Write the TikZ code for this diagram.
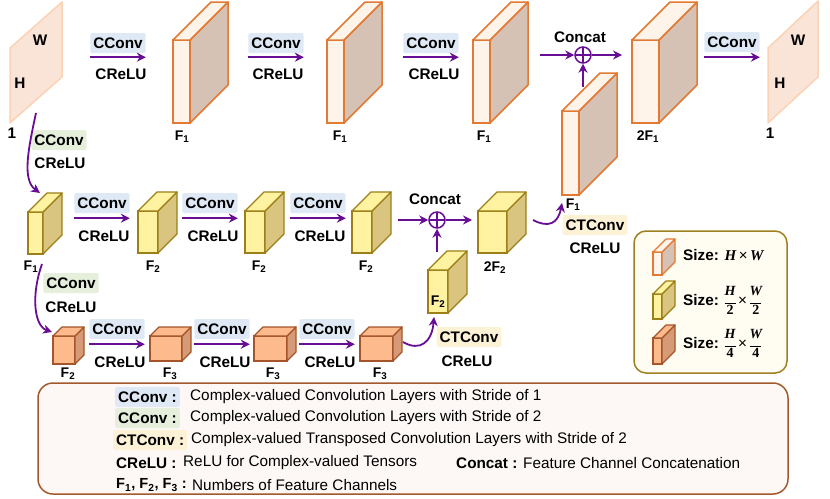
\documentclass[tikz,border=0pt]{standalone}
\usepackage{fontspec}
\setmainfont{Liberation Sans}
\newfontfamily\lserif{Liberation Serif}
\usetikzlibrary{arrows.meta,calc}
\definecolor{arrc}{RGB}{104,14,148}
\definecolor{bgblue}{RGB}{222,233,245}
\definecolor{bggreen}{RGB}{229,239,220}
\definecolor{bgorange}{RGB}{253,241,214}
\definecolor{bigline}{RGB}{226,122,52}
\definecolor{bigfr}{RGB}{254,244,233}
\definecolor{bigsd}{RGB}{214,194,180}
\definecolor{yelline}{RGB}{156,127,24}
\definecolor{yelfr}{RGB}{255,242,160}
\definecolor{yelsd}{RGB}{217,197,128}
\definecolor{orgline}{RGB}{164,86,42}
\definecolor{orgfr}{RGB}{253,186,140}
\definecolor{orgsd}{RGB}{215,154,119}
\definecolor{planefill}{RGB}{250,227,215}
\definecolor{planeline}{RGB}{252,210,180}
\definecolor{legAfill}{RGB}{255,252,242}
\definecolor{legAline}{RGB}{158,128,30}
\definecolor{legBfill}{RGB}{253,248,245}
\definecolor{legBline}{RGB}{163,89,43}
\newcommand{\mycube}[8]{%
  \node[#7front, line width=#8, minimum width=#4pt, minimum height=#5pt, anchor=north west] (#1) at (#2,#3) {};
  \filldraw[#7side, line width=#8] (#1.north east) -- ++(#6,-#6) -- ++(0,#5) -- (#1.south east) -- cycle;
  \filldraw[#7top, line width=#8] (#1.north west) -- ++(#6,-#6) -- ++(#4,0) -- (#1.north east) -- cycle;
}
\newcommand{\Fs}[1]{F\textsubscript{#1}}
\newcommand{\bi}[1]{{\lserif\bfseries\itshape #1}}
\newcommand{\bu}[1]{{\lserif\bfseries #1}}
\newcommand{\tfr}[2]{{\fontsize{14}{14}\selectfont\renewcommand{\arraystretch}{0.75}%
  \begin{tabular}[c]{@{}c@{}}\bi{#1}\\[-2pt]\rule{11pt}{0.9pt}\\[-1pt]\bu{#2}\end{tabular}}}
\begin{document}
\begin{tikzpicture}[x=1pt,y=-1pt,
  arr/.style={draw=arrc, line width=1.8pt, -{Stealth[length=9pt,width=9pt]}},
  lab/.style={font=\fontsize{15.3}{18}\selectfont\bfseries, inner sep=0pt},
  flab/.style={font=\fontsize{14}{16}\selectfont\bfseries, inner sep=0pt},
  txt/.style={font=\fontsize{15.3}{18}\selectfont, inner sep=0pt},
  bgb/.style={lab, fill=bgblue, rounded corners=2pt, inner xsep=3pt, minimum height=20pt},
  bgg/.style={lab, fill=bggreen, rounded corners=2pt, inner xsep=3pt, minimum height=20pt},
  bgo/.style={lab, fill=bgorange, rounded corners=2pt, inner xsep=3pt, minimum height=20pt},
  bigfront/.style={draw=bigline, fill=bigfr, inner sep=0pt, outer sep=0pt},
  bigside/.style={draw=bigline, fill=bigsd, line join=round},
  bigtop/.style={draw=bigline, fill=bigfr, line join=round},
  yelfront/.style={draw=yelline, fill=yelfr, inner sep=0pt, outer sep=0pt},
  yelside/.style={draw=yelline, fill=yelsd, line join=round},
  yeltop/.style={draw=yelline, fill=yelfr, line join=round},
  orgfront/.style={draw=orgline, fill=orgfr, inner sep=0pt, outer sep=0pt},
  orgside/.style={draw=orgline, fill=orgsd, line join=round},
  orgtop/.style={draw=orgline, fill=orgfr, line join=round},
  plane/.style={draw=planeline, fill=planefill, line width=1.5pt, line join=round},
  catc/.style={circle, draw=arrc, line width=1.5pt, minimum size=16pt, inner sep=0pt,
    path picture={\draw[arrc, line width=1.5pt] (path picture bounding box.north) -- (path picture bounding box.south)
      (path picture bounding box.west) -- (path picture bounding box.east);}}
]
\useasboundingbox (0,0) rectangle (830,498);

% ---------- legend boxes ----------
\draw[draw=legBline, fill=legBfill, line width=1.5pt, rounded corners=15pt] (38,383) rectangle (788,494);
\draw[draw=legAline, fill=legAfill, line width=1.5pt, rounded corners=12pt] (634,231) rectangle (787,373);

% ---------- top row ----------
\filldraw[plane] (10,48) -- (62,2) -- (62,77) -- (10,123) -- cycle;
\node[lab] (inW) at (40,40) {W};
\node[lab] (inH) at (20,83) {H};
\node[lab] (in1) at (12,133) {1};
\coordinate (inb) at (36,113);

\mycube{T1}{173}{40}{17}{83}{38}{big}{1.5pt}
\mycube{T2}{327}{40}{17}{83}{38}{big}{1.5pt}
\mycube{T3}{473}{40}{17}{83}{38}{big}{1.5pt}
\mycube{T4}{632}{40}{27}{83}{38}{big}{1.5pt}
\mycube{U1}{562}{111}{17}{84}{38}{big}{1.5pt}
\node[flab] (lT1) at (182,137) {\Fs{1}};
\node[flab] (lT2) at (340,137) {\Fs{1}};
\node[flab] (lT3) at (484,137) {\Fs{1}};
\node[flab] (lT4) at (648,137) {2\Fs{1}};
\node[flab] (lU1) at (573,205) {\Fs{1}};

\node[bgb] (c1) at (118,43) {CConv};
\draw[arr] ([yshift=-4pt]c1.south west) -- ([yshift=-4pt]c1.south east);
\node[lab] (r1) at (121,74) {CReLU};
\node[bgb] (c2) at (276,43) {CConv};
\draw[arr] ([yshift=-4pt]c2.south west) -- ([yshift=-4pt]c2.south east);
\node[lab] (r2) at (278,74) {CReLU};
\node[bgb] (c3) at (431,43) {CConv};
\draw[arr] ([yshift=-4pt]c3.south west) -- ([yshift=-4pt]c3.south east);
\node[lab] (r3) at (434,74) {CReLU};

\node[catc] (cat1) at (583,55) {};
\node[lab] (catl1) at (580,37) {Concat};
\draw[arr, shorten <=50pt] (cat1.west -| T3.east) -- (cat1.west);
\draw[arr, shorten >=10pt] (cat1.east) -- (cat1.east -| T4.west);
\draw[arr] ([yshift=24pt]cat1.south |- U1.north) -- (cat1.south);

\node[bgb] (c4) at (732,42) {CConv};
\draw[arr] ([yshift=-5pt]c4.south west) -- ([yshift=-5pt]c4.south east);

\filldraw[plane] (768,48) -- (818,1) -- (818,77) -- (768,123) -- cycle;
\node[lab] (outW) at (798,40) {W};
\node[lab] (outH) at (780,83) {H};
\node[lab] (out1) at (770,133) {1};

% green down 1
\node[bgg] (g1) at (59,140) {CConv};
\node[lab] (gr1) at (60,163) {CReLU};

% ---------- middle row ----------
\mycube{M1}{28}{212}{15}{42}{19}{yel}{1.3pt}
\mycube{M2}{138}{211}{20}{42}{19}{yel}{1.3pt}
\mycube{M3}{245}{211}{20}{42}{19}{yel}{1.3pt}
\mycube{M4}{352}{211}{20}{42}{19}{yel}{1.3pt}
\mycube{M5}{478}{211}{29}{42}{19}{yel}{1.3pt}
\mycube{MU}{428}{270}{20}{43}{19}{yel}{1.3pt}
\node[flab] (lM1) at (31,267) {\Fs{1}};
\node[flab] (lM2) at (153,267) {\Fs{2}};
\node[flab] (lM3) at (259,267) {\Fs{2}};
\node[flab] (lM4) at (366,267) {\Fs{2}};
\node[flab] (lM5) at (495,268) {2\Fs{2}};
\node[flab] (lMU) at (438,302) {\Fs{2}};

\draw[arr] (inb) .. controls (28,150) and (22,180) .. ([xshift=12pt,yshift=19pt]M1.north west);

\node[bgb] (m1) at (102,203) {CConv};
\draw[arr] ([yshift=-5pt]m1.south west) -- ([yshift=-5pt]m1.south east);
\node[lab] (mr1) at (104,236) {CReLU};
\node[bgb] (m2) at (210,203) {CConv};
\draw[arr] ([yshift=-5pt]m2.south west) -- ([yshift=-5pt]m2.south east);
\node[lab] (mr2) at (213,236) {CReLU};
\node[bgb] (m3) at (318,203) {CConv};
\draw[arr] ([yshift=-5pt]m3.south west) -- ([yshift=-5pt]m3.south east);
\node[lab] (mr3) at (320,236) {CReLU};

\node[catc] (cat2) at (437,220) {};
\node[lab] (catl2) at (435,199) {Concat};
\draw[arr, shorten <=26pt] (cat2.west -| M4.east) -- (cat2.west);
\draw[arr, shorten >=6pt] (cat2.east) -- (cat2.east -| M5.west);
\draw[arr] ([yshift=18pt]cat2.south |- MU.north) -- (cat2.south);

\coordinate (m5o) at ($(M5.north east)+(26,9)$);
\draw[arr] (m5o) .. controls (548,228) and (558,224) .. ([xshift=0pt,yshift=-8pt]U1.south west);
\node[bgo] (t1) at (595,225) {CTConv};
\node[lab] (tr1) at (595,248) {CReLU};

% ---------- bottom row ----------
\mycube{B1}{53}{336}{22}{28}{9}{org}{1.3pt}
\mycube{B2}{150}{336}{32}{25}{9}{org}{1.3pt}
\mycube{B3}{254}{336}{33}{25}{9}{org}{1.3pt}
\mycube{B4}{360}{336}{33}{25}{9}{org}{1.3pt}
\node[flab] (lB1) at (68,374) {\Fs{2}};
\node[flab] (lB2) at (170,374) {\Fs{3}};
\node[flab] (lB3) at (273,374) {\Fs{3}};
\node[flab] (lB4) at (380,374) {\Fs{3}};

% green down 2
\node[bgg] (g2) at (71,283) {CConv};
\node[lab] (gr2) at (71,307) {CReLU};
\draw[arr] ([xshift=-1pt,yshift=-10pt]M1.south east) .. controls (31,295) and (34,326) .. ([xshift=-1pt,yshift=4pt]B1.north west);

\node[bgb] (b1) at (117,329) {CConv};
\draw[arr] ([yshift=-5pt]b1.south west) -- ([yshift=-5pt]b1.south east);
\node[lab] (br1) at (120,362) {CReLU};
\node[bgb] (b2) at (222,329) {CConv};
\draw[arr] ([yshift=-5pt]b2.south west) -- ([yshift=-5pt]b2.south east);
\node[lab] (br2) at (225,362) {CReLU};
\node[bgb] (b3) at (327,329) {CConv};
\draw[arr] ([yshift=-5pt]b3.south west) -- ([yshift=-5pt]b3.south east);
\node[lab] (br3) at (330,362) {CReLU};

\coordinate (b4o) at ($(B4.north east)+(10,6)$);
\draw[arr] (b4o) .. controls (420,352) and (432,342) .. ([xshift=6pt,yshift=-4pt]MU.south west);
\node[bgo] (t2) at (469,337) {CTConv};
\node[lab] (tr2) at (467,361) {CReLU};

% ---------- right legend ----------
\mycube{L1}{653}{252}{9}{23}{13}{big}{1.1pt}
\mycube{L2}{653}{294}{9}{25}{13}{yel}{1.1pt}
\mycube{L3}{653}{338}{9}{26}{13}{org}{1.1pt}
\node[lab, anchor=west] (s1) at (683,255) {Size: {\fontsize{15}{17}\selectfont\bi{H}{\mdseries\,×\,}\bi{W}}};
\node[lab, anchor=west] (s2) at (683,302) {Size: \tfr{H}{2}{\mdseries\,×\,}\tfr{W}{2}};
\node[lab, anchor=west] (s3) at (683,345) {Size: \tfr{H}{4}{\mdseries\,×\,}\tfr{W}{4}};

% ---------- bottom legend ----------
\node[bgb, anchor=west] (k1) at (115,397) {CConv :};
\node[txt, anchor=west] (k1t) at (190,397) {Complex-valued Convolution Layers with Stride of 1};
\node[bgg, anchor=west] (k2) at (115,418) {CConv :};
\node[txt, anchor=west] (k2t) at (190,418) {Complex-valued Convolution Layers with Stride of 2};
\node[bgo, anchor=west] (k3) at (113,440) {CTConv :};
\node[txt, anchor=west] (k3t) at (191,440) {Complex-valued Transposed Convolution Layers with Stride of 2};
\node[lab, anchor=west] (k4) at (116,463) {CReLU :};
\node[txt, anchor=west] (k4t) at (183,463) {ReLU for Complex-valued Tensors};
\node[lab, anchor=west] (k5) at (456,463) {Concat :};
\node[txt, anchor=west] (k5t) at (523,463) {Feature Channel Concatenation};
\node[lab, anchor=west, font=\fontsize{14.6}{18}\selectfont\bfseries] (k6) at (116,485) {\Fs{1}, \Fs{2}, \Fs{3} :};
\node[txt, anchor=west] (k6t) at (192,485) {Numbers of Feature Channels};
\end{tikzpicture}
\end{document}
